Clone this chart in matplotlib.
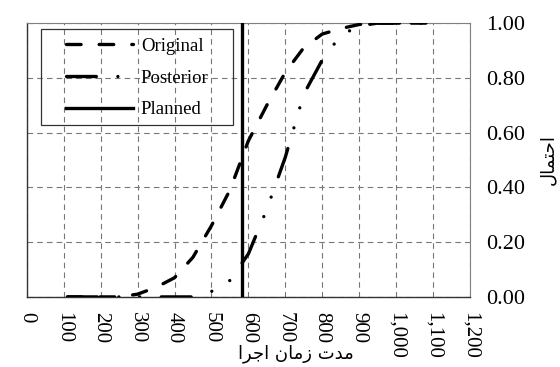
import matplotlib
matplotlib.use('Agg')
import matplotlib.pyplot as plt
from matplotlib.patches import Rectangle

plt.rcParams['font.family'] = ['Liberation Serif', 'DejaVu Sans']
plt.rcParams['lines.scale_dashes'] = False

# execution duration values (x) and cumulative probability
durations = [110, 150, 200, 250, 300, 350, 400, 450, 500, 550, 600, 650,
             700, 750, 800, 850, 900, 950, 1000, 1050, 1120]
prob_original = [0, 0, 0, 0, 0.01, 0.035, 0.07, 0.145, 0.26, 0.39, 0.57, 0.70,
                 0.82, 0.91, 0.96, 0.98, 0.995, 1.0, 1.0, 1.0, 1.0]
prob_posterior = [0, 0, 0, 0, 0, 0, 0, 0, 0.02, 0.06, 0.157, 0.32,
                  0.51, 0.74, 0.865, 0.955, 0.99, 1.0, 1.0, 1.0, 1.0]
planned = 582

x_ticks = list(range(0, 1201, 100))
y_ticks = [0.0, 0.2, 0.4, 0.6, 0.8, 1.0]

# Arabic labels, pre-shaped (presentation forms, visual order)
xlabel_text = '\uFE8D\uFEAE\uFE9F\uFE8D \uFEE5\uFE8E\uFEE3\uFEAF \uFE95\uFEAA\uFEE3'  # مدت زمان اجرا
ylabel_text = '\uFEDD\uFE8E\uFEE4\uFE98\uFEA3\uFE8D'  # احتمال

fig = plt.figure(figsize=(5.6, 3.67), dpi=100)
ax = fig.add_axes([0.048, 0.191, 0.791, 0.746])

lw = 2.4
ax.plot(durations, prob_original, color='black', lw=lw, dash_capstyle='round',
        linestyle=(0, (10.5, 13.0)), label='Original', zorder=3)
ax.plot(durations, prob_posterior, color='black', lw=lw, dash_capstyle='round',
        linestyle=(0, (21.5, 15.5, 0.01, 15.0, 0.01, 15.5)), label='Posterior', zorder=3)
ax.axvline(planned, color='black', lw=lw, label='Planned', zorder=4)

ax.set_xlim(0, 1200)
ax.set_ylim(0, 1.0)
ax.set_xticks(x_ticks)
ax.set_xticklabels(['{:,}'.format(v) for v in x_ticks], rotation=-90, fontsize=15)
ax.yaxis.tick_right()
ax.set_yticks(y_ticks)
ax.set_yticklabels(['{:.2f}'.format(v) for v in y_ticks], fontsize=16)
ax.tick_params(axis='x', length=0, pad=11)
ax.tick_params(axis='y', length=0, pad=12)

ax.grid(True, color='#777777', lw=0.8, linestyle=(0, (4, 3)))
for side in ['top', 'right']:
    ax.spines[side].set_color('#808080')
    ax.spines[side].set_linewidth(0.8)
for side in ['left', 'bottom']:
    ax.spines[side].set_color('#333333')
    ax.spines[side].set_linewidth(1.0)

# legend frame drawn separately (transparent, grid shows through)
ax.add_patch(Rectangle((0.032, 0.628), 0.433, 0.35, transform=ax.transAxes,
                       fill=False, edgecolor='#333333', lw=0.9, zorder=5))
leg = ax.legend(loc='upper left', bbox_to_anchor=(0.088, 0.947), frameon=False,
                fontsize=13.5, handlelength=3.6, handletextpad=0.4,
                labelspacing=0.78, borderpad=0, borderaxespad=0)
leg.set_zorder(6)

fig.text(0.528, 0.035, xlabel_text, family='DejaVu Sans', fontsize=13,
         ha='center', va='center')
fig.text(0.978, 0.565, ylabel_text, family='DejaVu Sans', fontsize=13,
         rotation=90, ha='center', va='center')

fig.savefig('out.png', dpi=100)
